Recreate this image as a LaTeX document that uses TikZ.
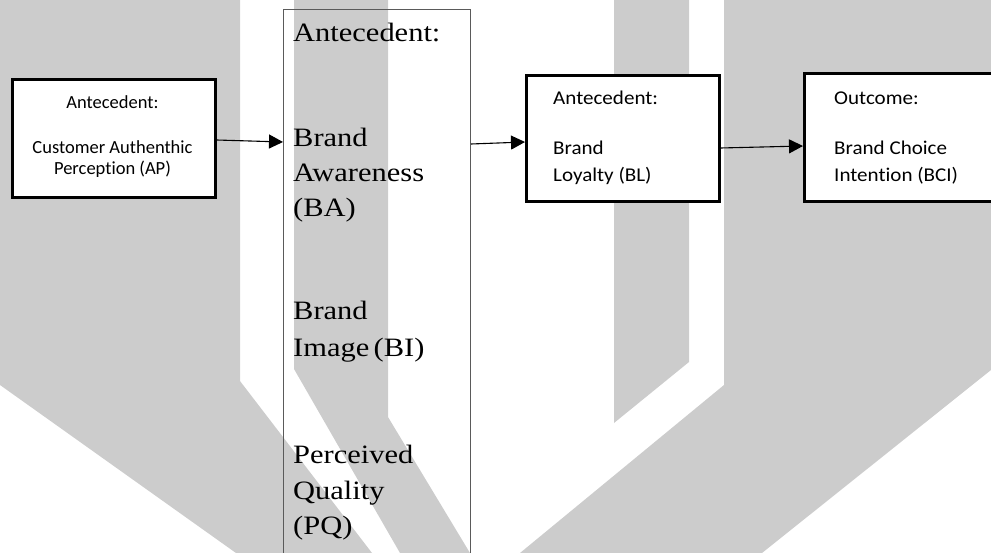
\documentclass[tikz,border=0pt]{standalone}
\usepackage{fontspec}
\setmainfont{Liberation Serif}
\newfontfamily\calibri[Ligatures=NoCommon]{Carlito}
\newfontfamily\widecalibri[FakeStretch=1.08, Ligatures=NoCommon]{Carlito}
\newfontfamily\wideserif[FakeStretch=1.15]{Liberation Serif}
\usetikzlibrary{arrows.meta,positioning}
\definecolor{markGray}{RGB}{204,204,204}
\definecolor{frameGray}{RGB}{90,90,90}
\newcommand{\nolig}{\kern0pt}

\begin{document}
\begin{tikzpicture}[x=1pt, y=-1pt,
    box/.style={draw=black, line width=2.6pt, fill=white, anchor=north west, inner sep=0pt},
    tag/.style={font=\widecalibri\fontsize{19.5}{24}\selectfont, anchor=base west, inner sep=0pt},
    aptag/.style={font=\calibri\fontsize{18.5}{22}\selectfont, anchor=base, inner sep=0pt},
    serif/.style={font=\wideserif\fontsize{26.5}{35}\selectfont, anchor=base west, inner sep=0pt},
    link/.style={-{Triangle[length=14pt, width=14pt]}, line width=1.1pt}]
        \useasboundingbox (0,0) rectangle (991,553);
        \clip (0,0) rectangle (991,553);
        % Watermark in the background
        \fill[markGray] (0,0) -- (240,0) -- (240,381) -- (372,553) -- (236,553) -- (0,385) -- cycle;
        \fill[markGray] (294,0) -- (388,0) -- (388,417) -- (470,553) -- (400,553) -- (294,369) -- cycle;
        \fill[markGray] (614,0) -- (689,0) -- (689,362) -- (614,423) -- cycle;
        \fill[markGray] (724,0) -- (991,0) -- (991,370) -- (762,553) -- (520,553) -- (724,385) -- cycle;
        % Middle column
        \draw[frameGray, line width=0.9pt] (283,560) -- (283,9) -- (470,9) -- (470,560);
        \coordinate (midin) at (283,142);
        \coordinate (midout) at (471,144);
        \node[serif] (ba0) at (293,42) {Antecedent:};
        \node[serif] (ba1) at (293,147) {Brand};
        \node[serif] (ba2) at (293,182) {Awareness};
        \node[serif] (ba3) at (293,217) {(BA)};
        \node[serif] (bi1) at (293,320) {Brand};
        \node[serif] (bi2) at (293,356) {Image\,(BI)};
        \node[serif] (pq1) at (293,463) {Perceived};
        \node[serif] (pq2) at (293,499) {Quality};
        \node[serif] (pq3) at (293,534) {(PQ)};
        % Side boxes
        \node[box, minimum width=203pt, minimum height=118pt] (ap) at (11,78) {};
        \node[aptag] (ap0) at (112.5,109) {Antecedent:};
        \node[aptag] (ap1) at (112.5,154) {Customer Authenthic};
        \node[aptag] (ap2) at (112.5,175) {Percept\nolig ion (AP)};
        \node[box, minimum width=193pt, minimum height=126pt] (bl) at (525,74) {};
        \node[tag] (bl0) at (553,105) {Antecedent:};
        \node[tag] (bl1) at (553,155) {Brand};
        \node[tag] (bl2) at (553,182) {Loyalty (BL)};
        \node[box, minimum width=200pt, minimum height=128pt] (bci) at (803,72) {};
        \node[tag] (bci0) at (834,105) {Outcome:};
        \node[tag] (bci1) at (834,155) {Brand Choice};
        \node[tag] (bci2) at (834,182) {Intent\nolig ion (BCI)};
        % Arrows
        \draw[link] (ap.east |- 0,140) -- (midin);
        \draw[link] (midout) -- (bl.west |- 0,142);
        \draw[link] (bl.east |- 0,148) -- (bci.west |- 0,146);
\end{tikzpicture}
\end{document}
